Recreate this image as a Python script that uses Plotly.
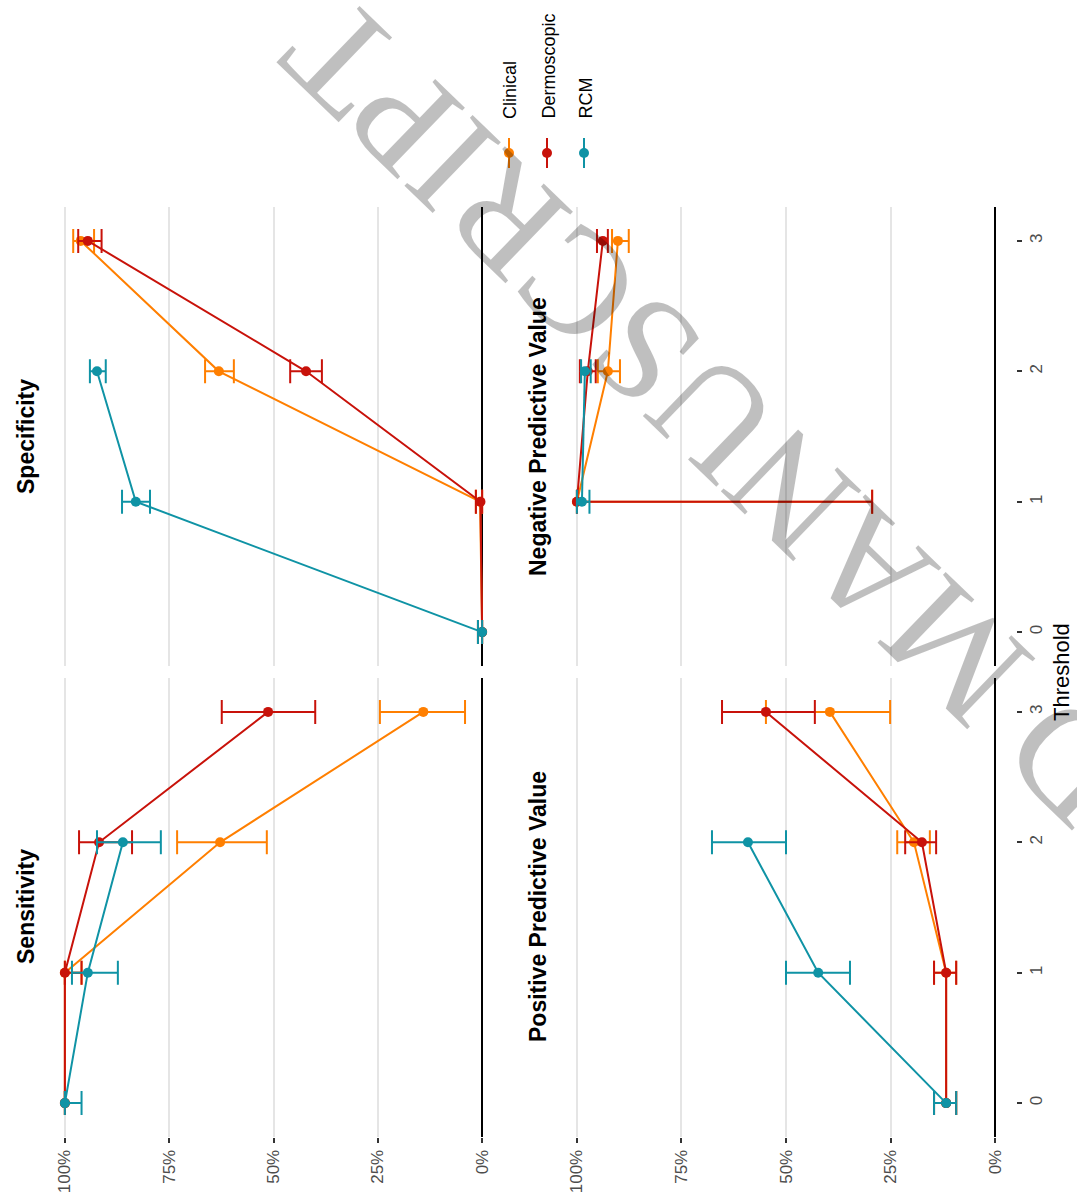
import plotly.graph_objects as go

W, H = 1077, 1203

# ---- data -------------------------------------------------------------
thresholds = [0, 1, 2, 3]
methods = ["Clinical", "Dermoscopic", "RCM"]
colors = {"Clinical": "#FF7F00", "Dermoscopic": "#C8120A", "RCM": "#0F93A5"}

# each metric: per method -> (thresholds, estimate, lower CI, upper CI)
sens_clinical = ([0, 1, 2, 3], [1.00, 1.00, 0.628, 0.141], [1.00, 0.96, 0.516, 0.041], [1.00, 1.00, 0.731, 0.245])
sens_dermo = ([0, 1, 2, 3], [1.00, 1.00, 0.918, 0.513], [1.00, 0.96, 0.839, 0.400], [1.00, 1.00, 0.966, 0.624])
sens_rcm = ([0, 1, 2], [1.00, 0.945, 0.861], [0.96, 0.873, 0.770], [1.00, 0.983, 0.923])

spec_clinical = ([0, 1, 2, 3], [0.0, 0.005, 0.631, 0.962], [0.0, 0.0, 0.595, 0.930], [0.01, 0.015, 0.664, 0.980])
spec_dermo = ([0, 1, 2, 3], [0.0, 0.004, 0.422, 0.945], [0.0, 0.0, 0.384, 0.912], [0.01, 0.015, 0.460, 0.968])
spec_rcm = ([0, 1, 2], [0.0, 0.830, 0.923], [0.0, 0.796, 0.902], [0.01, 0.863, 0.940])

ppv_clinical = ([0, 1, 2, 3], [0.117, 0.117, 0.194, 0.395], [0.093, 0.093, 0.156, 0.251], [0.146, 0.146, 0.234, 0.548])
ppv_dermo = ([0, 1, 2, 3], [0.117, 0.117, 0.175, 0.548], [0.093, 0.093, 0.141, 0.431], [0.146, 0.146, 0.215, 0.653])
ppv_rcm = ([0, 1, 2], [0.117, 0.423, 0.591], [0.093, 0.347, 0.500], [0.146, 0.500, 0.677])

npv_clinical = ([1, 2, 3], [1.00, 0.926, 0.902], [0.294, 0.897, 0.876], [1.00, 0.950, 0.916])
npv_dermo = ([1, 2, 3], [1.00, 0.974, 0.938], [0.294, 0.955, 0.926], [1.00, 0.993, 0.952])
npv_rcm = ([1, 2], [0.988, 0.981], [0.970, 0.967], [1.00, 0.990])

value_ticks = [0, 0.25, 0.5, 0.75, 1.0]
value_labels = ["0%", "25%", "50%", "75%", "100%"]

panels = [
    ("Sensitivity", {"Clinical": sens_clinical, "Dermoscopic": sens_dermo, "RCM": sens_rcm}),
    ("Specificity", {"Clinical": spec_clinical, "Dermoscopic": spec_dermo, "RCM": spec_rcm}),
    ("Positive Predictive Value", {"Clinical": ppv_clinical, "Dermoscopic": ppv_dermo, "RCM": ppv_rcm}),
    ("Negative Predictive Value", {"Clinical": npv_clinical, "Dermoscopic": npv_dermo, "RCM": npv_rcm}),
]


# ---- pixel helpers ----------------------------------------------------
def px(x):
    return x / W


def py(y):
    return 1 - y / H


# panel boxes in page pixels: (left, right), (top, bottom)
left_col = (44, 503)
right_col = (556, 1016)
top_row = (207, 666)
bottom_row = (678, 1137)
boxes = [
    (left_col, bottom_row),   # Sensitivity
    (left_col, top_row),      # Specificity
    (right_col, bottom_row),  # PPV
    (right_col, top_row),     # NPV
]

FONT = "Liberation Sans"
fig = go.Figure()

for i, (title, series) in enumerate(panels):
    n = "" if i == 0 else str(i + 1)
    for m in methods:
        th, est, lo, hi = series[m]
        fig.add_trace(go.Scatter(
            x=est, y=th,
            xaxis="x" + n, yaxis="y" + n,
            mode="lines+markers",
            line=dict(color=colors[m], width=2),
            marker=dict(color=colors[m], size=10),
            error_x=dict(
                type="data", symmetric=False,
                array=[h - e for h, e in zip(hi, est)],
                arrayminus=[e - l for e, l in zip(est, lo)],
                color=colors[m], thickness=2, width=12,
            ),
            name=m, showlegend=False, cliponaxis=False,
        ))

    (xl, xr), (yt, yb) = boxes[i]
    show_value_labels = i in (0, 2)
    show_thr_labels = i in (2, 3)
    fig.layout["xaxis" + n] = dict(
        domain=[px(xl), px(xr)], anchor="y" + n,
        range=[1.05, -0.05],
        tickvals=value_ticks, ticktext=value_labels,
        showgrid=True, gridcolor="#E5E5E5", gridwidth=1.5,
        zeroline=True, zerolinecolor="black", zerolinewidth=2,
        showline=False,
        ticks="outside" if show_value_labels else "",
        ticklen=5, tickwidth=1.5, tickcolor="#333333",
        showticklabels=show_value_labels, tickangle=-90,
        tickfont=dict(family=FONT, size=17, color="#4D4D4D"),
    )
    fig.layout["yaxis" + n] = dict(
        domain=[py(yb), py(yt)], anchor="x" + n,
        range=[-0.26, 3.26],
        tickvals=thresholds, ticktext=[str(t) for t in thresholds],
        showgrid=False, zeroline=False, showline=False,
        side="right",
        ticks="outside" if show_thr_labels else "",
        ticklen=5, tickwidth=1.5, tickcolor="#333333",
        showticklabels=show_thr_labels, tickangle=-90,
        tickfont=dict(family=FONT, size=17, color="#4D4D4D"),
    )

annotations = []

# facet titles
title_pos = [(26, 907), (26, 437), (538, 907), (538, 437)]
for (title, _), (tx, ty) in zip(panels, title_pos):
    annotations.append(dict(
        text=title, x=px(tx), y=py(ty), xref="paper", yref="paper",
        xanchor="center", yanchor="middle", textangle=-90, showarrow=False,
        font=dict(family=FONT, size=23, color="black", weight="bold"),
    ))

# axis title
annotations.append(dict(
    text="Threshold", x=px(1061), y=py(672), xref="paper", yref="paper",
    xanchor="center", yanchor="middle", textangle=-90, showarrow=False,
    font=dict(family=FONT, size=22, color="black"),
))

# legend
legend_x = {"Clinical": 509, "Dermoscopic": 547, "RCM": 584}
shapes = []
for m in methods:
    lx = legend_x[m]
    annotations.append(dict(
        text=m, x=px(lx + 1), y=py(121), xref="paper", yref="paper",
        xanchor="center", yanchor="bottom", textangle=-90, showarrow=False,
        font=dict(family=FONT, size=18, color="black"),
    ))
    shapes.append(dict(
        type="line", xref="paper", yref="paper",
        x0=px(lx), x1=px(lx), y0=py(138), y1=py(168),
        line=dict(color=colors[m], width=2),
    ))
    shapes.append(dict(
        type="circle", xref="paper", yref="paper",
        x0=px(lx - 5), x1=px(lx + 5), y0=py(158), y1=py(148),
        line=dict(color=colors[m], width=0), fillcolor=colors[m],
    ))

# diagonal page stamp
annotations.append(dict(
    text="ACCEPTED MANUSCRIPT", x=px(948), y=py(645), xref="paper", yref="paper",
    xanchor="center", yanchor="middle", textangle=-136, showarrow=False,
    font=dict(family="Liberation Serif", size=150, color="rgba(0,0,0,0.25)"),
))

fig.update_layout(
    width=W, height=H,
    margin=dict(l=0, r=0, t=0, b=0),
    paper_bgcolor="white", plot_bgcolor="white",
    annotations=annotations, shapes=shapes,
    showlegend=False,
)

fig.write_html("out.html")
